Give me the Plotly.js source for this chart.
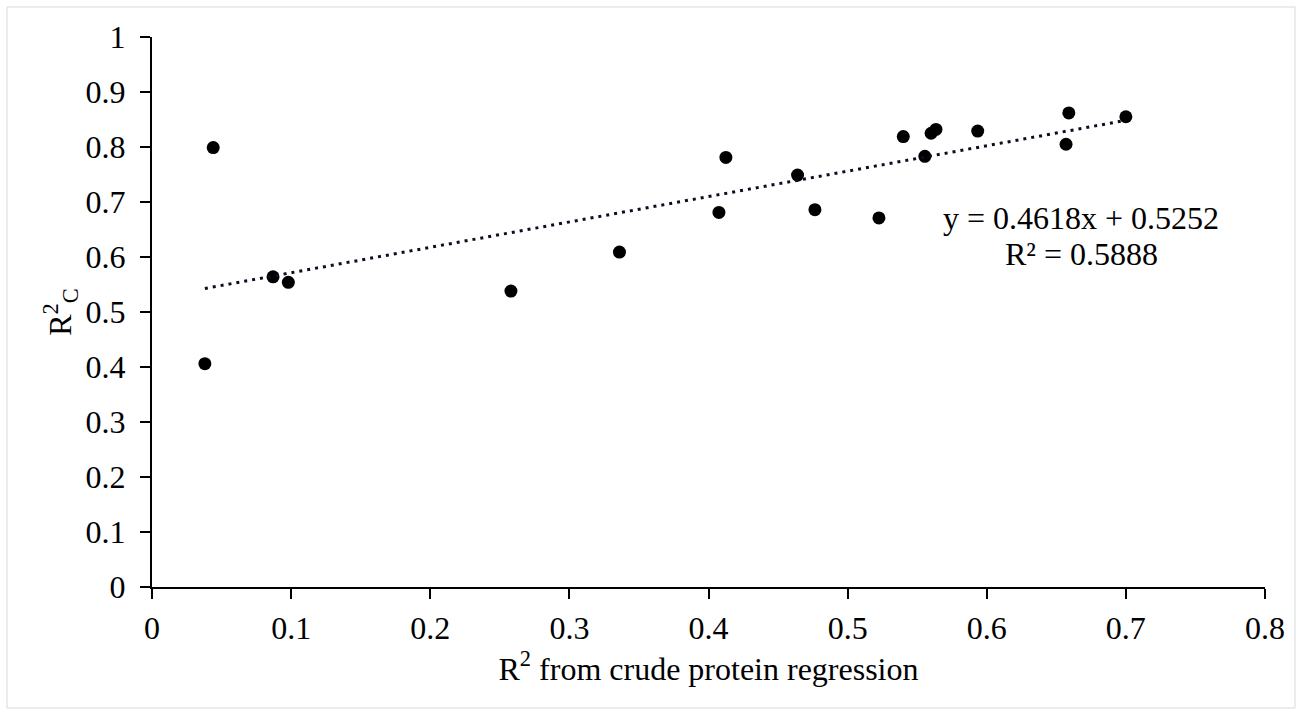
<!DOCTYPE html>
<html>
<head>
<meta charset="utf-8">
<script src="https://cdn.plot.ly/plotly-3.0.1.min.js"></script>
<style>
html,body{margin:0;padding:0;background:#fff;}
#chart{width:1302px;height:715px;}
</style>
</head>
<body>
<div id="chart"></div>
<script>
// Data
const xValues = [0.044, 0.038, 0.087, 0.098, 0.258, 0.336, 0.4125, 0.4075, 0.464, 0.4765, 0.5225, 0.540, 0.5555, 0.560, 0.5635, 0.5935, 0.659, 0.657, 0.700];
const yValues = [0.799, 0.406, 0.564, 0.554, 0.538, 0.609, 0.781, 0.681, 0.749, 0.686, 0.671, 0.819, 0.783, 0.825, 0.832, 0.829, 0.862, 0.805, 0.855];
const trendSlope = 0.4618;
const trendIntercept = 0.5252;
const trendR2 = 0.5888;
const xTickVals = [0, 0.1, 0.2, 0.3, 0.4, 0.5, 0.6, 0.7, 0.8];
const yTickVals = [0, 0.1, 0.2, 0.3, 0.4, 0.5, 0.6, 0.7, 0.8, 0.9, 1];

const xMin = Math.min(...xValues), xMax = Math.max(...xValues);
const trendX = [xMin, xMax];
const trendY = trendX.map(v => trendSlope * v + trendIntercept);

const FONT = 'Liberation Serif, Times New Roman, serif';
const FS = 32;
const W = 1302, H = 715, L = 152, R = 37, T = 37, B = 128;
const pw = W - L - R, ph = H - T - B;
const px = v => (v - L) / pw;
const py = v => (H - B - v) / ph;

const traces = [
  {
    x: xValues, y: yValues, type: 'scatter', mode: 'markers',
    marker: {color: '#000000', size: 13},
    showlegend: false, hoverinfo: 'x+y'
  },
  {
    x: trendX, y: trendY, type: 'scatter', mode: 'lines',
    line: {color: '#0d0d1f', width: 3, dash: '3px,5px'},
    showlegend: false, hoverinfo: 'skip'
  }
];

const axisCommon = {
  showgrid: false, zeroline: false, showline: true,
  linecolor: '#000000', linewidth: 2,
  ticks: 'outside', ticklen: 10, tickwidth: 2, tickcolor: '#000000',
  tickfont: {family: FONT, size: FS, color: '#000000'}
};

const layout = {
  width: W, height: H,
  margin: {l: L, r: R, t: T, b: B},
  paper_bgcolor: '#ffffff', plot_bgcolor: '#ffffff',
  font: {family: FONT, color: '#000000'},
  xaxis: Object.assign({}, axisCommon, {
    range: [0, 0.8], tickvals: xTickVals, ticktext: xTickVals.map(String),
    ticklabelstandoff: 2,
    title: {text: 'R<sup>2</sup> from crude protein regression', font: {family: FONT, size: FS, color: '#000000'}, standoff: 12}
  }),
  yaxis: Object.assign({}, axisCommon, {
    range: [0, 1], tickvals: yTickVals, ticktext: yTickVals.map(String),
    ticklabelstandoff: 8,
    title: {text: 'R<sup>2</sup><sub>C</sub>', font: {family: FONT, size: FS, color: '#000000'}, standoff: 4}
  }),
  annotations: [
    {x: 0.668, y: 0.671, xref: 'x', yref: 'y', showarrow: false,
     text: 'y = ' + trendSlope.toFixed(4) + 'x + ' + trendIntercept.toFixed(4),
     font: {family: FONT, size: FS, color: '#000000'}},
    {x: 0.668, y: 0.606, xref: 'x', yref: 'y', showarrow: false,
     text: 'R² = ' + trendR2.toFixed(4),
     font: {family: FONT, size: FS, color: '#000000'}}
  ],
  shapes: [
    {type: 'rect', xref: 'paper', yref: 'paper',
     x0: px(7), x1: px(1295), y0: py(708), y1: py(7),
     line: {color: '#d9d9d9', width: 1}, fillcolor: 'rgba(0,0,0,0)', layer: 'below'}
  ]
};

Plotly.newPlot('chart', traces, layout, {displayModeBar: false, staticPlot: true});
</script>
</body>
</html>
